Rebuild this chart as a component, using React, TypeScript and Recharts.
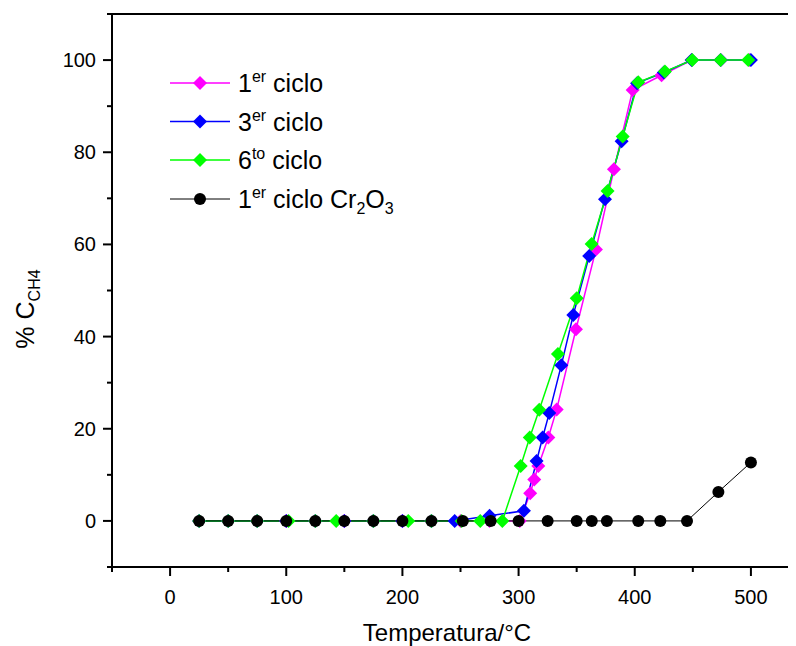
import React from 'react';
import { LineChart, Line, XAxis, YAxis, ReferenceLine, Legend } from 'recharts';

const FONT = 'Arial, "Liberation Sans", Helvetica, sans-serif';

// Temperature (°C) and CH4 conversion (%) per series
const T1 = [25, 50, 75, 100, 125, 150, 175, 200, 225, 250, 275, 301, 310, 313.5, 317, 325.6, 332.8, 349.4, 366.6, 382.1, 398.2, 423.1, 449, 474, 499];
const C1 = [0, 0, 0, 0, 0, 0, 0, 0, 0, 0, 0, 0, 6.0, 9.0, 11.9, 18.1, 24.2, 41.6, 58.9, 76.3, 93.5, 96.7, 100, 100, 100];

const T3 = [25, 50, 75, 100, 125, 150, 175, 200, 225, 245, 275, 304.6, 315.5, 320.7, 326.4, 336.8, 347.1, 360.8, 374.4, 388.7, 402, 425, 449, 474, 500];
const C3 = [0, 0, 0, 0, 0, 0, 0, 0, 0, 0, 1.1, 2.2, 13, 18.1, 23.4, 33.8, 44.7, 57.5, 69.8, 82.4, 95, 97.3, 100, 100, 100];

const T6 = [25, 50, 75, 102, 125, 143, 175, 205, 225, 251, 267, 286, 301.8, 309.6, 317.8, 333.9, 350, 362.9, 376.6, 389.6, 403, 426, 449.5, 473.9, 497.7];
const C6 = [0, 0, 0, 0, 0, 0, 0, 0, 0, 0, 0, 0, 11.9, 18.1, 24.1, 36.2, 48.3, 60.1, 71.6, 83.4, 95.2, 97.5, 100, 100, 100];

const TB = [25, 50, 75, 100, 125, 150, 175, 200, 225, 252, 276, 300, 325, 350, 363, 376, 403, 422, 445, 472, 500];
const CB = [0, 0, 0, 0, 0, 0, 0, 0, 0, 0, 0, 0, 0, 0, 0, 0, 0, 0, 0, 6.3, 12.7];

const X_TICKS = [-50, 0, 50, 100, 150, 200, 250, 300, 350, 400, 450, 500, 550];
const Y_TICKS = [-10, 0, 10, 20, 30, 40, 50, 60, 70, 80, 90, 100, 110];

const zip = (t: number[], c: number[]) => t.map((x, i) => ({ t: x, v: c[i] }));
const d1 = zip(T1, C1);
const d3 = zip(T3, C3);
const d6 = zip(T6, C6);
const dB = zip(TB, CB);

const MAGENTA = '#FF00FF';
const BLUE = '#0000FF';
const GREEN = '#00FF00';

const diamondDot = (color: string) => (props: any) => {
  const { cx, cy, index } = props;
  if (cx == null || cy == null) return <g key={`e${index}`} />;
  const r = 7;
  return (
    <polygon
      key={`d${index}`}
      points={`${cx},${cy - r} ${cx + r},${cy} ${cx},${cy + r} ${cx - r},${cy}`}
      fill={color}
      stroke="none"
    />
  );
};

const XTick = (props: any) => {
  const { x, y, payload } = props;
  const v = payload.value;
  const major = v % 100 === 0;
  return (
    <g>
      <line x1={x} x2={x} y1={y} y2={y + (major ? 9 : 5)} stroke="#000" strokeWidth={2} />
      {major && (
        <text x={x} y={y + 37} textAnchor="middle" fontSize={20} fontFamily={FONT} fill="#000">
          {v}
        </text>
      )}
    </g>
  );
};

const YTick = (props: any) => {
  const { x, y, payload } = props;
  const v = payload.value;
  const major = v % 20 === 0;
  return (
    <g>
      <line x1={x} x2={x - (major ? 9 : 5)} y1={y} y2={y} stroke="#000" strokeWidth={2} />
      {major && (
        <text x={x - 16} y={y + 7} textAnchor="end" fontSize={20} fontFamily={FONT} fill="#000">
          {v}
        </text>
      )}
    </g>
  );
};

const XLabel = () => (
  <text x={439} y={633} textAnchor="middle" fontSize={24} fontFamily={FONT} fill="#000">
    Temperatura/°C
  </text>
);

const YLabel = () => (
  <text
    x={26}
    y={301}
    transform="rotate(-90, 26, 301)"
    textAnchor="middle"
    fontSize={25}
    fontFamily={FONT}
    fill="#000"
  >
    % C
    <tspan fontSize={16} dy={6}>CH4</tspan>
  </text>
);

const renderLegend = () => {
  const rows = [0, 38.5, 77, 116];
  const ty = (i: number) => rows[i] + 18;
  const textProps = { fontSize: 25, fontFamily: FONT, fill: '#000' };
  const diamond = (cx: number, cy: number, color: string) => (
    <polygon points={`${cx},${cy - 7} ${cx + 7},${cy} ${cx},${cy + 7} ${cx - 7},${cy}`} fill={color} />
  );
  const items = [
    { color: MAGENTA, sup: 'er', num: '1' },
    { color: BLUE, sup: 'er', num: '3' },
    { color: GREEN, sup: 'to', num: '6' },
  ];
  return (
    <svg width={340} height={160} style={{ overflow: 'visible', display: 'block' }}>
      {items.map((it, i) => (
        <g key={i}>
          <line x1={0} x2={60} y1={ty(i)} y2={ty(i)} stroke={it.color} strokeWidth={1.5} />
          {diamond(30, ty(i), it.color)}
          <text x={68} y={ty(i) + 9} {...textProps}>
            {it.num}
            <tspan fontSize={16} dy={-10}>{it.sup}</tspan>
            <tspan dy={10}>{' ciclo'}</tspan>
          </text>
        </g>
      ))}
      <g>
        <line x1={0} x2={60} y1={ty(3)} y2={ty(3)} stroke="#000" strokeWidth={1} />
        <circle cx={30} cy={ty(3)} r={6} fill="#000" />
        <text x={68} y={ty(3) + 9} {...textProps}>
          1
          <tspan fontSize={16} dy={-10}>er</tspan>
          <tspan dy={10}>{' ciclo Cr'}</tspan>
          <tspan fontSize={16} dy={6}>2</tspan>
          <tspan dy={-6}>O</tspan>
          <tspan fontSize={16} dy={6}>3</tspan>
        </text>
      </g>
    </svg>
  );
};

export default function App() {
  return (
    <div style={{ width: 788, height: 638, overflow: 'hidden', position: 'relative', background: '#fff' }}>
      <LineChart width={811} height={638} margin={{ top: 6, right: 10, left: 0, bottom: 0 }}>
        <XAxis
          type="number"
          dataKey="t"
          domain={[-50, 550]}
          ticks={X_TICKS}
          interval={0}
          height={79}
          tickSize={0}
          tickMargin={0}
          tickLine={false}
          tick={<XTick />}
          axisLine={{ stroke: '#000', strokeWidth: 2 }}
          allowDataOverflow
        />
        <YAxis
          type="number"
          domain={[-10, 110]}
          ticks={Y_TICKS}
          interval={0}
          width={104}
          tickSize={0}
          tickMargin={0}
          tickLine={false}
          tick={<YTick />}
          axisLine={{ stroke: '#000', strokeWidth: 2 }}
          allowDataOverflow
        />
        <ReferenceLine y={110} stroke="#000" strokeWidth={2} />
        <Legend
          layout="vertical"
          align="center"
          verticalAlign="middle"
          wrapperStyle={{ left: 162, top: 57, width: 340 }}
          content={renderLegend}
        />
        <Line data={d1} dataKey="v" name="1er ciclo" stroke={MAGENTA} strokeWidth={1.5} dot={diamondDot(MAGENTA)} activeDot={false} isAnimationActive={false} />
        <Line data={d3} dataKey="v" name="3er ciclo" stroke={BLUE} strokeWidth={1.5} dot={diamondDot(BLUE)} activeDot={false} isAnimationActive={false} />
        <Line data={d6} dataKey="v" name="6to ciclo" stroke={GREEN} strokeWidth={1.5} dot={diamondDot(GREEN)} activeDot={false} isAnimationActive={false} />
        <Line data={dB} dataKey="v" name="1er ciclo Cr2O3" stroke="#000" strokeWidth={1} dot={{ r: 6, fill: '#000', stroke: 'none' }} activeDot={false} isAnimationActive={false} />
        <XLabel />
        <YLabel />
      </LineChart>
    </div>
  );
}
